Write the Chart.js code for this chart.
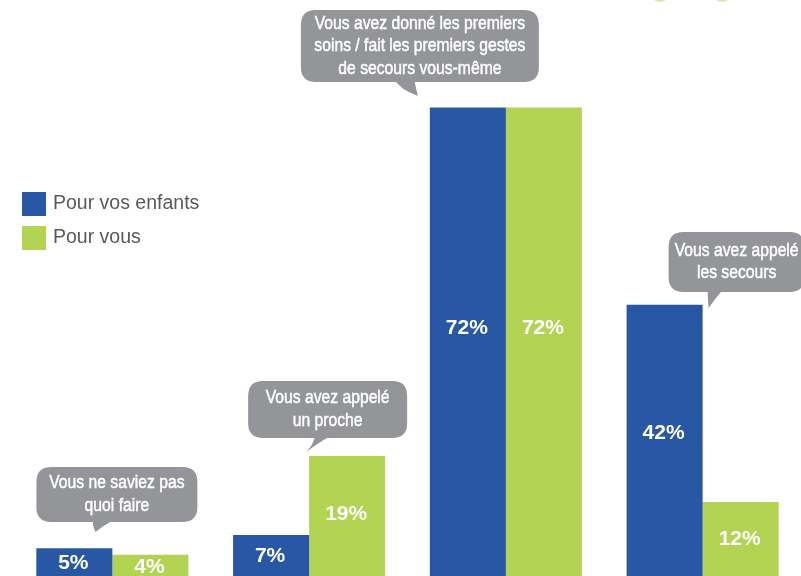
<!DOCTYPE html>
<html>
<head>
<meta charset="utf-8">
<script src="https://cdn.jsdelivr.net/npm/chart.js@4/dist/chart.umd.min.js"></script>
<style>
  html, body { margin: 0; padding: 0; background: #fff; overflow: hidden; }
  #wrap { width: 801px; height: 576px; overflow: hidden; }
</style>
</head>
<body>
<div id="wrap"><canvas id="chartBar" width="801" height="600"></canvas></div>
<script>
// situations (texte des bulles)
var categories = [
    ["Vous ne saviez pas", "quoi faire"],
    ["Vous avez appelé", "un proche"],
    ["Vous avez donné les premiers", "soins / fait les premiers gestes", "de secours vous-même"],
    ["Vous avez appelé", "les secours"]
];
var seriesNames = ["Pour vos enfants", "Pour vous"];
var pourEnfants = [5, 7, 72, 42];
var pourVous = [4, 19, 72, 12];

var BLUE = '#2858a5';
var GREEN = '#b3d453';
var GREY = '#939598';
var SANS = '"Liberation Sans", Arial, Helvetica, sans-serif';

// placement des bulles, en px, relatif au centre du groupe
var bubbles = [
    { dx: -76, w: 161, top: 467, h: 55, tail: [-20, 1, -17, 532] },
    { dx: -61, w: 159, top: 381, h: 57, tail: [6, 21, -3, 452] },
    { dx: -205, w: 238, top: 10, h: 72, tail: [-111, -92, -88, 96] },
    { dx: -34, w: 136, top: 232, h: 60, tail: [5, 20, 6, 308] }
];

function roundRect(ctx, x, y, w, h, r) {
    ctx.moveTo(x + r, y);
    ctx.lineTo(x + w - r, y);
    ctx.quadraticCurveTo(x + w, y, x + w, y + r);
    ctx.lineTo(x + w, y + h - r);
    ctx.quadraticCurveTo(x + w, y + h, x + w - r, y + h);
    ctx.lineTo(x + r, y + h);
    ctx.quadraticCurveTo(x, y + h, x, y + h - r);
    ctx.lineTo(x, y + r);
    ctx.quadraticCurveTo(x, y, x + r, y);
}

var bubblePlugin = {
    id: 'bubbles',
    afterDraw: function (chart) {
        var ctx = chart.ctx;
        var xs = chart.scales.x;
        ctx.save();
        chart.data.labels.forEach(function (lines, i) {
            var b = bubbles[i];
            var cx = xs.getPixelForValue(i);
            var x = cx + b.dx;
            var bottom = b.top + b.h;
            ctx.fillStyle = GREY;
            ctx.beginPath();
            roundRect(ctx, x, b.top, b.w, b.h, 15);
            ctx.fill();
            // la queue
            var x1 = cx + b.tail[0], x2 = cx + b.tail[1], tx = cx + b.tail[2], ty = b.tail[3];
            ctx.beginPath();
            ctx.moveTo(x1, bottom - 2);
            ctx.quadraticCurveTo(x1 + (tx - x1) * 0.2, (bottom + ty) / 2, tx, ty);
            ctx.quadraticCurveTo(x2 + (tx - x2) * 0.5, (bottom + ty) / 2 - 2, x2, bottom - 2);
            ctx.closePath();
            ctx.fill();
            // texte (police condensée simulée)
            ctx.fillStyle = '#fff';
            ctx.strokeStyle = '#fff';
            ctx.lineWidth = 0.5;
            ctx.font = '19px ' + SANS;
            ctx.textAlign = 'center';
            ctx.textBaseline = 'middle';
            var lh = 22.5;
            var ty0 = b.top + b.h / 2 - (lines.length - 1) * lh / 2;
            lines.forEach(function (l, k) {
                ctx.save();
                ctx.translate(x + b.w / 2, ty0 + k * lh);
                ctx.scale(0.826, 1);
                ctx.fillText(l, 0, 0);
                ctx.strokeText(l, 0, 0);
                ctx.restore();
            });
        });
        ctx.restore();
    }
};

var valuePlugin = {
    id: 'values',
    afterDatasetsDraw: function (chart) {
        var ctx = chart.ctx;
        ctx.save();
        ctx.fillStyle = '#fff';
        ctx.font = 'bold 21px ' + SANS;
        ctx.textAlign = 'center';
        ctx.textBaseline = 'middle';
        chart.data.datasets.forEach(function (ds, d) {
            chart.getDatasetMeta(d).data.forEach(function (bar, i) {
                var y = bar.y + (bar.base - bar.y) * 0.465;
                ctx.fillText(ds.data[i] + '%', bar.x - 1, y);
            });
        });
        ctx.restore();
    }
};

var legendPlugin = {
    id: 'sideLegend',
    afterDraw: function (chart) {
        var ctx = chart.ctx;
        ctx.save();
        chart.data.datasets.forEach(function (ds, d) {
            var y = 192 + d * 34;
            ctx.fillStyle = ds.backgroundColor;
            ctx.fillRect(22, y, 24, 24);
            ctx.fillStyle = '#58595b';
            ctx.font = '19.5px ' + SANS;
            ctx.textAlign = 'left';
            ctx.textBaseline = 'middle';
            ctx.fillText(ds.label, 53, y + 12);
        });
        // petits arcs verts coupés en haut
        ctx.strokeStyle = '#dbe9b4';
        ctx.lineWidth = 2;
        [660, 722].forEach(function (ax) {
            ctx.beginPath();
            ctx.ellipse(ax, -6, 8, 7, 0, 0.25 * Math.PI, 0.75 * Math.PI);
            ctx.stroke();
        });
        ctx.restore();
    }
};

var chartBar = new Chart(document.getElementById('chartBar'), {
    type: 'bar',
    data: {
        labels: categories,
        datasets: [
            { label: seriesNames[0], data: pourEnfants, backgroundColor: BLUE },
            { label: seriesNames[1], data: pourVous, backgroundColor: GREEN }
        ]
    },
    options: {
        responsive: false,
        animation: false,
        events: [],
        layout: { padding: { left: 14, right: 0, top: 55, bottom: 19 } },
        datasets: { bar: { categoryPercentage: 0.773, barPercentage: 1.0 } },
        scales: {
            x: { display: false },
            y: { display: false, min: 0, max: 80 }
        },
        plugins: {
            legend: { display: false },
            tooltip: { enabled: false }
        }
    },
    plugins: [valuePlugin, bubblePlugin, legendPlugin]
});
</script>
</body>
</html>
